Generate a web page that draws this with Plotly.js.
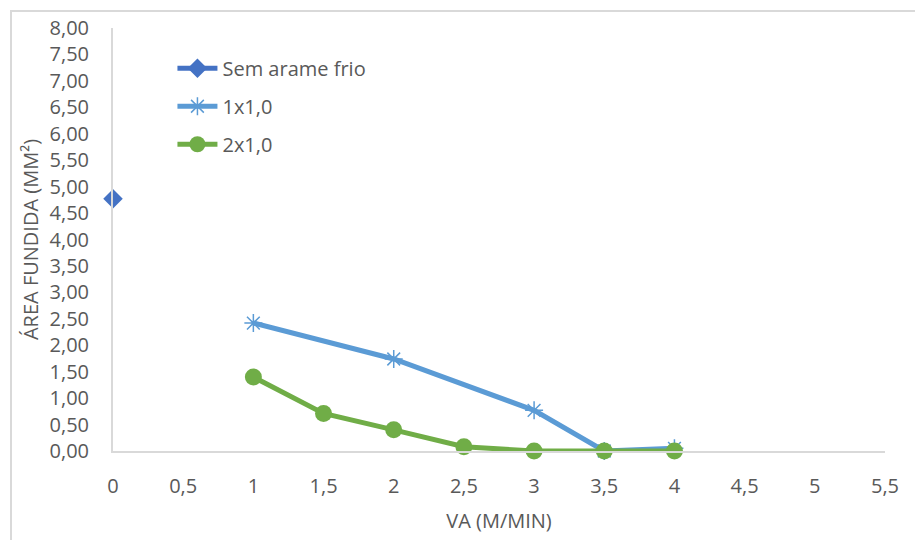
<!DOCTYPE html>
<html><head><meta charset="utf-8">
<script src="https://cdn.plot.ly/plotly-3.0.1.min.js"></script>
<style>
html,body{margin:0;padding:0;background:#fff;}
#wrap{position:relative;width:915px;height:540px;overflow:hidden;}
#frame{position:absolute;left:10px;top:10px;width:1000px;height:1000px;border:2px solid #d9d9d9;box-sizing:border-box;}
#chart{position:absolute;left:0;top:0;width:915px;height:540px;}
</style></head>
<body><div id="wrap"><div id="frame"></div><div id="chart"></div></div>
<script>
const semX = [0];
const semY = [4.77];
const s1X = [1, 2, 3, 3.5, 4];
const s1Y = [2.42, 1.74, 0.77, 0.0, 0.05];
const s2X = [1, 1.5, 2, 2.5, 3, 3.5, 4];
const s2Y = [1.40, 0.71, 0.40, 0.08, 0.0, 0.0, 0.0];
const names = ['Sem arame frio', '1x1,0', '2x1,0'];
const xTickVals = [0, 0.5, 1, 1.5, 2, 2.5, 3, 3.5, 4, 4.5, 5, 5.5];
const xTickText = ['0', '0,5', '1', '1,5', '2', '2,5', '3', '3,5', '4', '4,5', '5', '5,5'];
const yTickVals = [0, 0.5, 1, 1.5, 2, 2.5, 3, 3.5, 4, 4.5, 5, 5.5, 6, 6.5, 7, 7.5, 8];
const yTickText = ['0,00','0,50','1,00','1,50','2,00','2,50','3,00','3,50','4,00','4,50','5,00','5,50','6,00','6,50','7,00','7,50','8,00'];
const xTitle = 'VA (M/MIN)';
const yTitle = 'ÁREA FUNDIDA (MM²)';

const font = {family: 'Open Sans, Noto Sans, sans-serif', size: 20, color: '#595959'};
const traces = [
  {x: semX, y: semY, name: names[0], legendgroup: 'a', mode: 'lines+markers', type: 'scatter',
   line: {color: '#4472C4', width: 5}, marker: {symbol: 'diamond', size: 15, color: '#4472C4'}, cliponaxis: false},
  {x: s1X, y: s1Y, name: names[1], legendgroup: 'b', mode: 'lines+markers', type: 'scatter',
   line: {color: '#5B9BD5', width: 5}, marker: {symbol: 'asterisk-open', size: 15, color: '#5B9BD5', line: {color: '#5B9BD5', width: 1.5}}, cliponaxis: false},
  {x: s2X, y: s2Y, name: names[2], legendgroup: 'c', mode: 'lines+markers', type: 'scatter',
   line: {color: '#70AD47', width: 5}, marker: {symbol: 'circle', size: 17, color: '#70AD47'}, cliponaxis: false}
];
const layout = {
  width: 915, height: 540,
  margin: {l: 113, r: 30, t: 28, b: 89},
  paper_bgcolor: 'rgba(0,0,0,0)', plot_bgcolor: 'rgba(0,0,0,0)',
  font: font,
  showlegend: true,
  legend: {x: 0.077, y: 0.951, xanchor: 'left', yanchor: 'top', bgcolor: 'rgba(0,0,0,0)',
           font: font, tracegroupgap: 9, itemwidth: 40},
  xaxis: {range: [0, 5.5], tickvals: xTickVals, ticktext: xTickText, showgrid: false, zeroline: false,
          showline: true, linecolor: '#d9d9d9', linewidth: 2, ticks: 'outside', ticklen: 16, tickcolor: 'rgba(0,0,0,0)',
          tickfont: font, title: {text: xTitle, font: font, standoff: 16}},
  yaxis: {range: [0, 8], tickvals: yTickVals, ticktext: yTickText, showgrid: false, zeroline: false,
          showline: true, linecolor: '#d9d9d9', linewidth: 2, ticks: 'outside', ticklen: 18, tickcolor: 'rgba(0,0,0,0)',
          tickfont: font, title: {text: yTitle, font: font, standoff: 6}}
};
Plotly.newPlot('chart', traces, layout, {displayModeBar: false, staticPlot: true});
</script></body></html>
